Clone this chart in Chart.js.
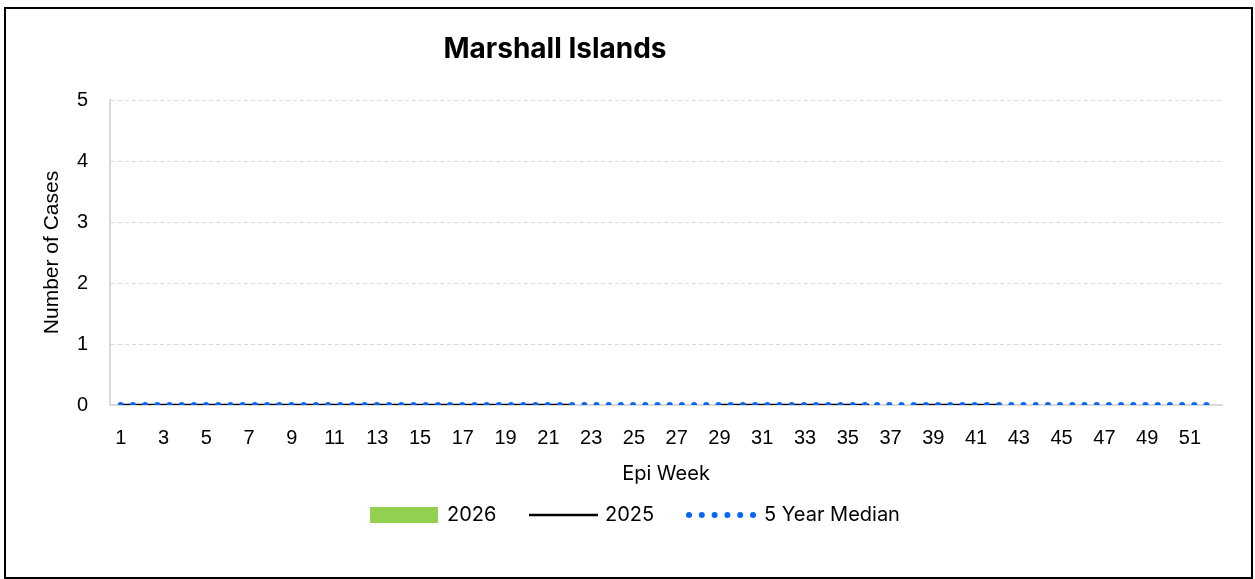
<!DOCTYPE html>
<html>
<head>
<meta charset="utf-8">
<script src="https://cdn.jsdelivr.net/npm/chart.js@4"></script>
<style>
  body { margin: 0; background: #fff; }
  #wrap { position: relative; width: 1255px; height: 579px; }
  #frame { position: absolute; left: 4px; top: 7px; width: 1249px; height: 572px; border: 2px solid #000; box-sizing: border-box; pointer-events: none; }
</style>
</head>
<body>
<div id="wrap">
  <canvas id="epiChart" width="1255" height="579"></canvas>
  <div id="frame"></div>
</div>
<script>
// Chart data
const weeks = [];
for (let w = 1; w <= 52; w++) weeks.push(String(w));

const cases2026 = [0, 0];
const cases2025 = [
  0, 0, 0, 0, 0, 0, 0, 0, 0, 0, 0, 0, 0, 0, 0, 0, 0, 0, 0, 0, 0, 0,
  null, null, null, null, null, null,
  0, 0, 0, 0, 0, 0, 0, 0,
  null,
  0, 0, 0, 0, 0,
  null, null, null, null, null, null, null, null, null, null
];
const median5yr = [
  0, 0, 0, 0, 0, 0, 0, 0, 0, 0, 0, 0, 0, 0, 0, 0, 0, 0, 0, 0, 0, 0, 0, 0, 0, 0,
  0, 0, 0, 0, 0, 0, 0, 0, 0, 0, 0, 0, 0, 0, 0, 0, 0, 0, 0, 0, 0, 0, 0, 0, 0, 0
];
const yTicks = [0, 1, 2, 3, 4, 5];

const GREEN = '#92d050';
const BLUE = '#0a66f5';
const GRID = '#d9d9d9';
const SANS = 'Inter, "Liberation Sans", sans-serif';
const ARIAL = '"Liberation Sans", Arial, sans-serif';

// title + legend drawn on the canvas
const decorPlugin = {
    id: 'decor',
    afterDraw(chart) {
        const ctx = chart.ctx;
        ctx.save();
        ctx.fillStyle = '#000';
        ctx.textBaseline = 'middle';
        ctx.textAlign = 'center';
        ctx.font = 'bold 28px ' + SANS;
        ctx.fillText('Marshall Islands', 555, 50);

        const ly = 515;
        ctx.textAlign = 'left';
        ctx.font = '20px ' + SANS;

        ctx.fillStyle = GREEN;
        ctx.fillRect(370, ly - 8, 68, 16);
        ctx.fillStyle = '#000';
        ctx.fillText('2026', 447, ly);

        ctx.strokeStyle = '#000';
        ctx.lineWidth = 2.5;
        ctx.beginPath();
        ctx.moveTo(529, ly);
        ctx.lineTo(598, ly);
        ctx.stroke();
        ctx.fillText('2025', 605, ly);

        ctx.fillStyle = BLUE;
        for (let i = 0; i < 6; i++) {
            ctx.beginPath();
            ctx.arc(689 + i * 12.8, ly, 3, 0, Math.PI * 2);
            ctx.fill();
        }
        ctx.fillStyle = '#000';
        ctx.fillText('5 Year Median', 764, ly);
        ctx.restore();
    }
};

const ctx = document.getElementById('epiChart').getContext('2d');
const epiChart = new Chart(ctx, {
    type: 'bar',
    data: {
        labels: weeks,
        datasets: [
            {
                type: 'line',
                label: '5 Year Median',
                data: median5yr,
                borderColor: BLUE,
                borderWidth: 6,
                borderDash: [0, 12.2],
                borderCapStyle: 'round',
                pointRadius: 0,
                fill: false,
                order: 0
            },
            {
                type: 'line',
                label: '2025',
                data: cases2025,
                borderColor: '#000',
                borderWidth: 2.5,
                pointRadius: 0,
                spanGaps: false,
                fill: false,
                order: 1
            },
            {
                label: '2026',
                data: cases2026,
                backgroundColor: GREEN,
                borderWidth: 0,
                order: 2
            }
        ]
    },
    options: {
        responsive: false,
        animation: false,
        layout: { padding: { top: 100, right: 33, bottom: 84, left: 0 } },
        plugins: {
            legend: { display: false },
            title: { display: false },
            tooltip: { enabled: false }
        },
        scales: {
            x: {
                offset: true,
                grid: { display: false, drawTicks: false },
                border: { display: true, color: GRID, width: 2 },
                ticks: {
                    autoSkip: false,
                    maxRotation: 0,
                    padding: 21,
                    color: '#000',
                    font: { family: ARIAL, size: 20 },
                    callback: function(value, index) {
                        return index % 2 === 0 ? weeks[index] : '';
                    }
                },
                title: {
                    display: true,
                    text: 'Epi Week',
                    color: '#000',
                    font: { family: SANS, size: 20 },
                    padding: { top: 0, bottom: 9 }
                },
                afterFit: function(scale) { scale.height = 90; }
            },
            y: {
                min: 0,
                max: 5,
                afterBuildTicks: function(scale) {
                    scale.ticks = yTicks.map(v => ({ value: v }));
                },
                grid: { color: GRID, lineWidth: 1, drawTicks: false },
                border: { display: true, color: GRID, width: 2, dash: [4, 3] },
                ticks: {
                    padding: 22,
                    color: '#000',
                    font: { family: ARIAL, size: 20 }
                },
                title: {
                    display: true,
                    text: 'Number of Cases',
                    color: '#000',
                    font: { family: ARIAL, size: 21 },
                    padding: { top: 40, bottom: 0 }
                },
                afterFit: function(scale) { scale.width = 110; }
            }
        }
    },
    plugins: [decorPlugin]
});
</script>
</body>
</html>
